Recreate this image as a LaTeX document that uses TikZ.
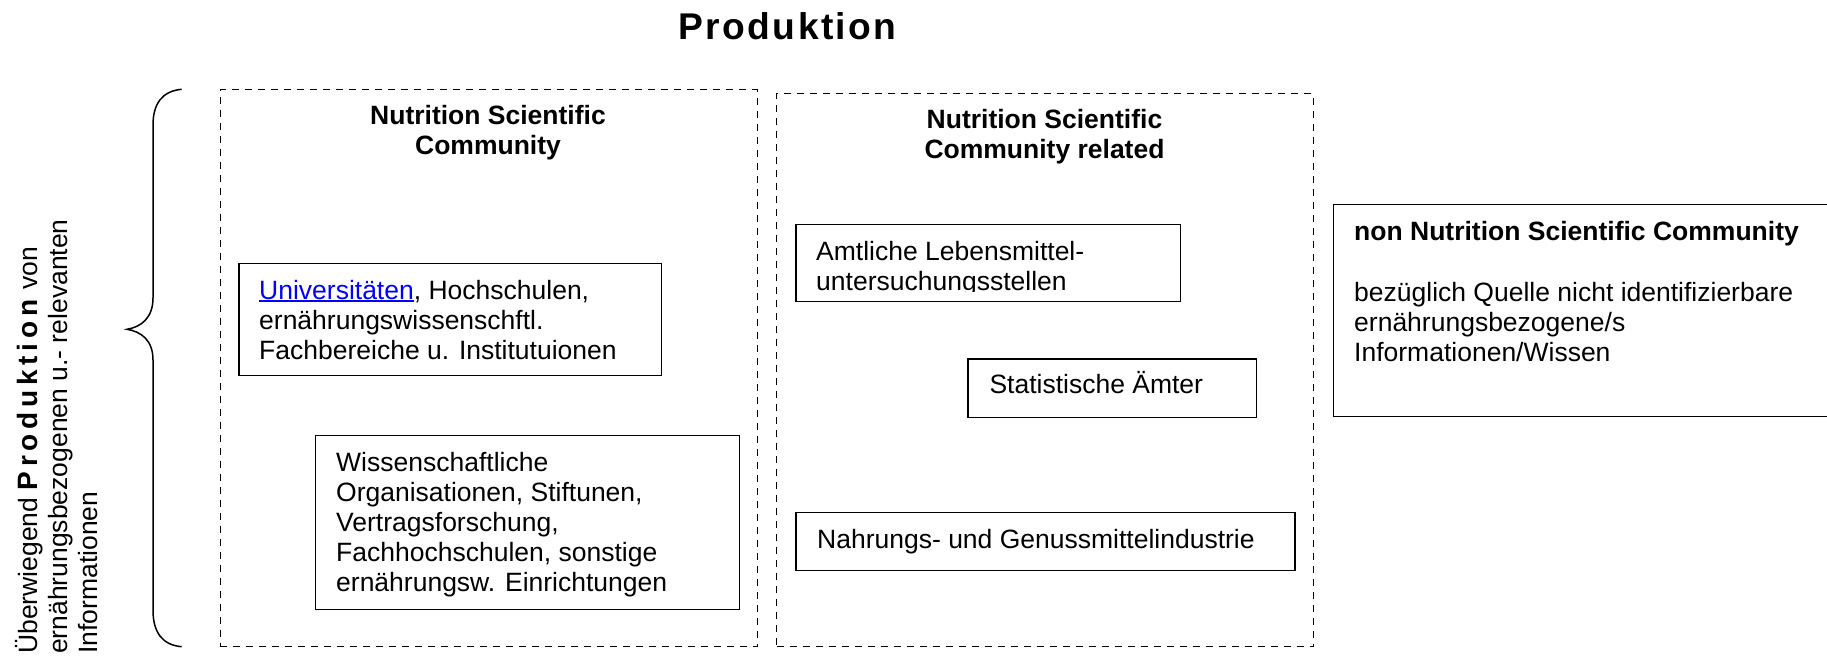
\documentclass[tikz,border=0pt]{standalone}
\usepackage{fontspec}
\setmainfont{Liberation Sans}
\definecolor{linkblue}{RGB}{0,0,255}
\newcommand\mylines[1]{\begin{tabular}[t]{@{}l@{}}#1\end{tabular}}
\newcommand\mycentre[1]{\begin{tabular}[t]{@{}c@{}}#1\end{tabular}}
\newcommand\myul[1]{\setbox0\hbox{#1}\rlap{\rule[-2.4pt]{\wd0}{1.3pt}}\box0}
\begin{document}
\begin{tikzpicture}[x=1pt,y=-1pt,
  txt/.style={font=\fontsize{26.5}{30}\selectfont, inner sep=0pt, anchor=base west},
  head/.style={font=\fontsize{26.5}{30.5}\selectfont\bfseries, inner sep=0pt, anchor=base},
  solidbox/.style={draw, line width=1.4pt, inner sep=0pt, anchor=north west},
  dashbox/.style={draw, line width=1pt, dash pattern=on 7pt off 6pt, inner sep=0pt, anchor=north west},
]
\useasboundingbox (0,0) rectangle (1827,656);

% title
\node[font=\fontsize{37.2}{40}\selectfont\bfseries\addfontfeature{LetterSpace=6.5}, inner sep=0pt, anchor=base] (title) at (787.5,39.3) {Produktion};

% side text
\node[txt, rotate=90] (side) at (37,654) {\mylines{Überwiegend {\fontsize{28}{30}\selectfont\bfseries\addfontfeature{LetterSpace=17}Produktion}\hspace{3pt} von\\ ernährungsbezogenen u.- relevanten\\ Informationen}};

% brace
\draw[line width=1.5pt] (181.7,89.3) .. controls (162,91) and (153,104) .. (153,125) -- (153,298)
  .. controls (153,318) and (141,327) .. (127,329.3)
  .. controls (141,331.6) and (153,340) .. (153,360) -- (153,610)
  .. controls (153,632) and (162,645) .. (181.7,646.7);

% dashed groups
\node[dashbox, minimum width=537.2pt, minimum height=556.7pt] (grpA) at (219.5,89.3) {};
\node[dashbox, minimum width=537pt, minimum height=552.7pt] (grpB) at (776,93.3) {};

\node[head] (grpAT) at (488,124) {\mycentre{Nutrition Scientific\\Community}};
\node[head] (grpBT) at (1044.5,128.3) {\mycentre{Nutrition Scientific\\Community related}};

% solid boxes
\node[solidbox, minimum width=422.7pt, minimum height=112pt] (univ) at (238.3,262.5) {};
\node[txt] (univT) at (259,299.3) {\mylines{\textcolor{linkblue}{\myul{Universitäten}}, Hochschulen,\\ernährungswissenschftl.\\Fachbereiche u. Institutuionen}};

\node[solidbox, minimum width=423.8pt, minimum height=174pt] (wiss) at (314.7,435) {};
\node[txt] (wissT) at (336,471) {\mylines{Wissenschaftliche\\Organisationen, Stiftunen,\\Vertragsforschung,\\Fachhochschulen, sonstige\\ernährungsw. Einrichtungen}};

\node[solidbox, minimum width=384.7pt, minimum height=76.7pt] (amt) at (795.3,224) {};
\begin{scope}
\clip (795,224) rectangle (1181,291.8);
\node[txt] (amtT) at (816,260) {\mylines{Amtliche Lebensmittel-\\untersuchungsstellen}};
\end{scope}

\node[solidbox, minimum width=288.7pt, minimum height=58.4pt] (stat) at (967.3,358.3) {};
\node[txt] (statT) at (989.3,393) {Statistische Ämter};

\node[solidbox, minimum width=499pt, minimum height=58.3pt] (nahr) at (795.4,511.7) {};
\node[txt] (nahrT) at (817,548) {Nahrungs- und Genussmittelindustrie};

\node[solidbox, minimum width=520pt, minimum height=211.7pt] (non) at (1332.5,204) {};
\node[txt, font=\fontsize{26.5}{30}\selectfont\bfseries] (nonH) at (1354,240) {non Nutrition Scientific Community};
\node[txt] (nonT) at (1354,301.7) {\mylines{bezüglich Quelle nicht identifizierbare\\ernährungsbezogene/s\\Informationen/Wissen}};
\end{tikzpicture}
\end{document}
